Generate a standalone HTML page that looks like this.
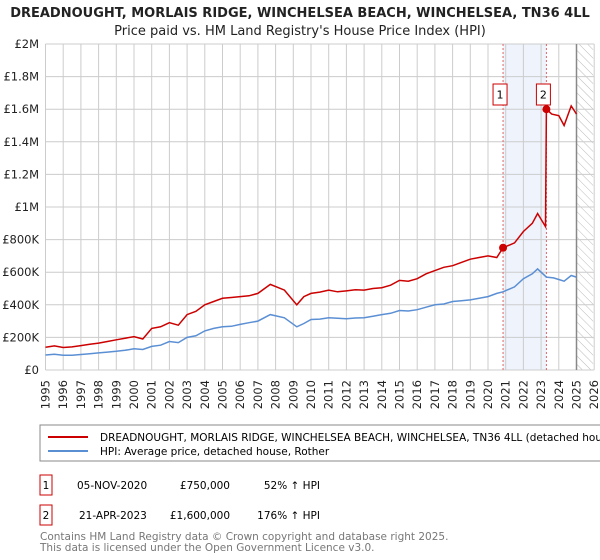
<!DOCTYPE html>
<html><head><meta charset="utf-8"><style>
body{margin:0;background:#fff;width:600px;height:560px;overflow:hidden;font-family:"DejaVu Sans","Liberation Sans",sans-serif;}
svg{display:block}
</style></head><body>
<svg id="chart" width="600" height="560">
<defs><pattern id="hatch" width="6" height="6" patternUnits="userSpaceOnUse" patternTransform="rotate(-45)"><line x1="0" y1="0" x2="0" y2="6" stroke="#bbb" stroke-width="1"/></pattern></defs>
<text x="300" y="17" text-anchor="middle" font-size="13" font-weight="bold" fill="#222">DREADNOUGHT, MORLAIS RIDGE, WINCHELSEA BEACH, WINCHELSEA, TN36 4LL</text>
<text x="300" y="35" text-anchor="middle" font-size="13" fill="#222">Price paid vs. HM Land Registry's House Price Index (HPI)</text>
<g id="grid"></g><g id="marks"></g><g id="axes"></g>
<rect x="40" y="425" width="570" height="36" fill="none" stroke="#888"/>
<line x1="48" y1="437" x2="88" y2="437" stroke="#cc0000" stroke-width="2"/>
<text x="100" y="441" font-size="10.5" fill="#000">DREADNOUGHT, MORLAIS RIDGE, WINCHELSEA BEACH, WINCHELSEA, TN36 4LL (detached house)</text>
<line x1="48" y1="451" x2="88" y2="451" stroke="#5b8fd4" stroke-width="2"/>
<text x="100" y="455" font-size="10.5" fill="#000">HPI: Average price, detached house, Rother</text>
<g font-size="10.5" fill="#000">
<rect x="40" y="475" width="12" height="20" fill="#fff" stroke="#cc0000"/>
<text x="46" y="489" text-anchor="middle">1</text>
<text x="77" y="489">05-NOV-2020</text>
<text x="230" y="489" text-anchor="end">£750,000</text>
<text x="320" y="489" text-anchor="end">52% ↑ HPI</text>
<rect x="40" y="505" width="12" height="20" fill="#fff" stroke="#cc0000"/>
<text x="46" y="519" text-anchor="middle">2</text>
<text x="79" y="519">21-APR-2023</text>
<text x="230" y="519" text-anchor="end">£1,600,000</text>
<text x="320" y="519" text-anchor="end">176% ↑ HPI</text>
</g>
<text x="40" y="540" font-size="10.5" fill="#777">Contains HM Land Registry data © Crown copyright and database right 2025.</text>
<text x="40" y="551" font-size="10.5" fill="#777">This data is licensed under the Open Government Licence v3.0.</text>
</svg>
<script>
const yearTicks=[1995,1996,1997,1998,1999,2000,2001,2002,2003,2004,2005,2006,2007,2008,2009,2010,2011,2012,2013,2014,2015,2016,2017,2018,2019,2020,2021,2022,2023,2024,2025,2026];
const yTickValues=[0,200000,400000,600000,800000,1000000,1200000,1400000,1600000,1800000,2000000];
const yTickLabels=["£0","£200K","£400K","£600K","£800K","£1M","£1.2M","£1.4M","£1.6M","£1.8M","£2M"];
const hpiDates=[1995,1995.5,1996,1996.5,1997,1997.5,1998,1998.5,1999,1999.5,2000,2000.5,2001,2001.5,2002,2002.5,2003,2003.5,2004,2004.5,2005,2005.5,2006,2006.5,2007,2007.7,2008.5,2009.2,2009.6,2010,2010.5,2011,2011.5,2012,2012.5,2013,2013.5,2014,2014.5,2015,2015.5,2016,2016.5,2017,2017.5,2018,2018.5,2019,2019.5,2020,2020.5,2020.85,2021.5,2022,2022.5,2022.8,2023.3,2023.7,2024,2024.3,2024.7,2025];
const hpiValues=[92000,97000,90000,91000,95000,100000,105000,110000,115000,121000,130000,126000,145000,152000,175000,168000,200000,210000,240000,255000,265000,268000,280000,290000,300000,340000,320000,265000,285000,310000,312000,320000,318000,315000,319000,320000,330000,340000,348000,365000,362000,370000,385000,400000,405000,420000,425000,430000,440000,450000,470000,480000,510000,560000,590000,620000,570000,565000,555000,545000,580000,570000];
const redDates=[1995,1995.5,1996,1996.5,1997,1997.5,1998,1998.5,1999,1999.5,2000,2000.5,2001,2001.5,2002,2002.5,2003,2003.5,2004,2004.5,2005,2005.5,2006,2006.5,2007,2007.7,2008.5,2009.2,2009.6,2010,2010.5,2011,2011.5,2012,2012.5,2013,2013.5,2014,2014.5,2015,2015.5,2016,2016.5,2017,2017.5,2018,2018.5,2019,2019.5,2020,2020.5,2020.85,2021.5,2022,2022.5,2022.8,2023.25,2023.3,2023.6,2024,2024.3,2024.7,2025];
const redValues=[140000,148000,138000,142000,150000,158000,165000,175000,185000,195000,205000,190000,255000,265000,290000,275000,340000,360000,400000,420000,440000,445000,450000,455000,470000,525000,490000,400000,450000,470000,478000,490000,480000,485000,492000,490000,500000,505000,520000,550000,545000,560000,590000,610000,630000,640000,660000,680000,690000,700000,690000,750000,780000,850000,900000,960000,880000,1600000,1570000,1560000,1500000,1620000,1570000];
const sales=[{d:2020.85,v:750000,n:"1"},{d:2023.3,v:1600000,n:"2"}];
const NS="http://www.w3.org/2000/svg";
const X0=45.5,XW=17.7,Y0=370,YH=326;
function xs(t){return X0+(t-1995)*XW;}
function ys(v){return Y0-v/2000000*YH;}
function mk(tag,attrs,parent){const e=document.createElementNS(NS,tag);for(const k in attrs)e.setAttribute(k,attrs[k]);parent.appendChild(e);return e;}
const grid=document.getElementById('grid'),marks=document.getElementById('marks'),axes=document.getElementById('axes');
const bg=mk('rect',{x:xs(2020.85),y:ys(2000000),width:xs(2023.3)-xs(2020.85),height:YH,fill:'#eef3fc'},grid);


const hatch=mk('rect',{x:xs(2025),y:ys(2000000),width:xs(2026)-xs(2025)-1,height:YH,fill:'url(#hatch)'},grid);


yearTicks.forEach(t=>{
  const l=mk('line',{x1:xs(t),x2:xs(t),y1:ys(2000000),y2:Y0,stroke:'#ccc'},grid);
  
  
  const tx=mk('text',{x:0,y:0,'text-anchor':'end','font-size':'11.5',fill:'#222',transform:'translate('+(xs(t)+4)+','+(Y0+10)+') rotate(-90)'},axes);
  tx.textContent=t;
  
  
});
yTickValues.forEach((v,i)=>{
  const l=mk('line',{x1:X0,x2:xs(2026),y1:ys(v),y2:ys(v),stroke:'#ccc'},grid);
  
  
  const tx=mk('text',{x:39,y:ys(v)+4,'text-anchor':'end','font-size':'11.5',fill:'#222'},axes);
  tx.textContent=yTickLabels[i];
  
  
});
const nowL=mk('line',{x1:xs(2025),x2:xs(2025),y1:ys(2000000),y2:Y0,stroke:'#888','stroke-width':1.5},grid);


sales.forEach(s=>{
  const l=mk('line',{x1:xs(s.d),x2:xs(s.d),y1:ys(2000000),y2:Y0,stroke:'#e06666','stroke-dasharray':'2,2'},grid);
  
  
});
function path(ds,vs){return ds.map((d,i)=>(i?'L':'M')+xs(d).toFixed(1)+','+ys(vs[i]).toFixed(1)).join('');}
const hp=mk('path',{d:path(hpiDates,hpiValues),fill:'none',stroke:'#5b8fd4','stroke-width':1.5},marks);


const rp=mk('path',{d:path(redDates,redValues),fill:'none',stroke:'#cc0000','stroke-width':1.5},marks);


sales.forEach(s=>{
  const c=mk('circle',{cx:xs(s.d),cy:ys(s.v),r:4,fill:'#cc0000'},marks);
  
  
  const bx=xs(s.d)-3;
  const r=mk('rect',{x:bx-7,y:84,width:14,height:21,fill:'#fff',stroke:'#cc0000'},marks);
  
  
  const t=mk('text',{x:bx,y:98.5,'text-anchor':'middle','font-size':'11',fill:'#000'},marks);
  t.textContent=s.n;
  
  
});
</script>
</body></html>
